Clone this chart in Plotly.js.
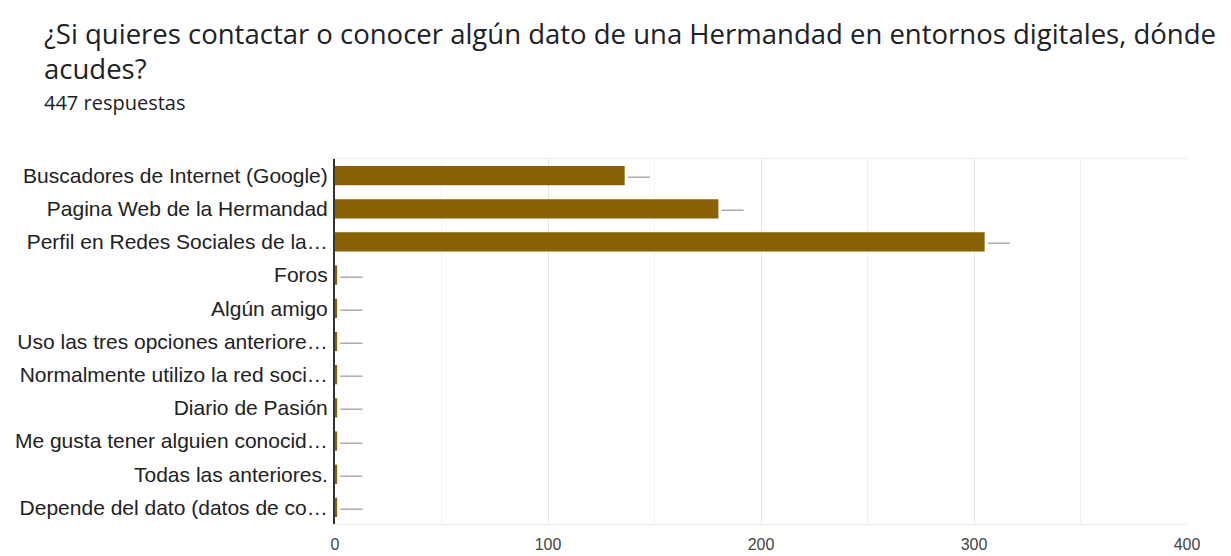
<!DOCTYPE html>
<html>
<head>
<meta charset="utf-8">
<script src="https://cdn.plot.ly/plotly-3.0.1.min.js"></script>
<style>html,body{margin:0;padding:0;background:#fff;}#chart{width:1231px;height:556px;}</style>
</head>
<body>
<div id="chart"></div>
<script>
const categories = [
  "Buscadores de Internet (Google)",
  "Pagina Web de la Hermandad",
  "Perfil en Redes Sociales de la…",
  "Foros",
  "Algún amigo",
  "Uso las tres opciones anteriore…",
  "Normalmente utilizo la red soci…",
  "Diario de Pasión",
  "Me gusta tener alguien conocid…",
  "Todas las anteriores.",
  "Depende del dato (datos de co…"
];
const counts = [136, 180, 305, 1, 1, 1, 1, 1, 1, 1, 1];
const xTicks = [0, 100, 200, 300, 400];

const titleLine1 = "¿Si quieres contactar o conocer algún dato de una Hermandad en entornos digitales, dónde";
const titleLine2 = "acudes?";
const subtitle = "447 respuestas";

const trace = {
  type: 'bar',
  orientation: 'h',
  y: categories,
  x: counts,
  marker: {color: '#8a6100'},
  text: counts.map(() => '—'),
  textposition: 'outside',
  outsidetextfont: {family: 'Liberation Sans, Arial, sans-serif', size: 22, color: '#b0b0b0'},
  cliponaxis: false,
  constraintext: 'none',
  hoverinfo: 'x+y'
};

function pxX(px) { return (px - 335) / (1231 - 335 - 44); }
function pxY(py) { return 1 - (py - 159) / (556 - 159 - 32); }

const layout = {
  width: 1231,
  height: 556,
  margin: {l: 335, r: 44, t: 159, b: 32},
  paper_bgcolor: '#ffffff',
  plot_bgcolor: '#ffffff',
  showlegend: false,
  bargap: 0.42,
  font: {family: 'Liberation Sans, Arial, sans-serif', color: '#222222'},
  xaxis: {
    range: [0, 400],
    tickvals: xTicks,
    ticktext: xTicks.map(String),
    showgrid: true,
    gridcolor: '#e6e6e6',
    gridwidth: 1,
    minor: {dtick: 50, showgrid: true, gridcolor: '#f2f2f2', gridwidth: 1},
    zeroline: false,
    showline: true,
    mirror: true,
    linecolor: '#ececec',
    linewidth: 1,
    ticks: '',
    tickfont: {size: 16, color: '#444444'},
    ticklabelstandoff: 6
  },
  yaxis: {
    autorange: 'reversed',
    showline: true,
    linecolor: '#333333',
    linewidth: 2,
    showgrid: false,
    zeroline: false,
    ticks: '',
    tickfont: {size: 21, color: '#222222'},
    ticklabelstandoff: 1
  },
  annotations: [
    {xref: 'paper', yref: 'paper', x: pxX(42), y: pxY(34), xanchor: 'left', yanchor: 'middle',
     showarrow: false, text: titleLine1, font: {family: 'Open Sans, sans-serif', size: 27.5, color: '#202124'}},
    {xref: 'paper', yref: 'paper', x: pxX(42), y: pxY(68), xanchor: 'left', yanchor: 'middle',
     showarrow: false, text: titleLine2, font: {family: 'Open Sans, sans-serif', size: 27.5, color: '#202124'}},
    {xref: 'paper', yref: 'paper', x: pxX(42), y: pxY(102), xanchor: 'left', yanchor: 'middle',
     showarrow: false, text: subtitle, font: {family: 'Open Sans, sans-serif', size: 20, color: '#202124'}}
  ]
};

Plotly.newPlot('chart', [trace], layout, {displayModeBar: false, staticPlot: true});
</script>
</body>
</html>
